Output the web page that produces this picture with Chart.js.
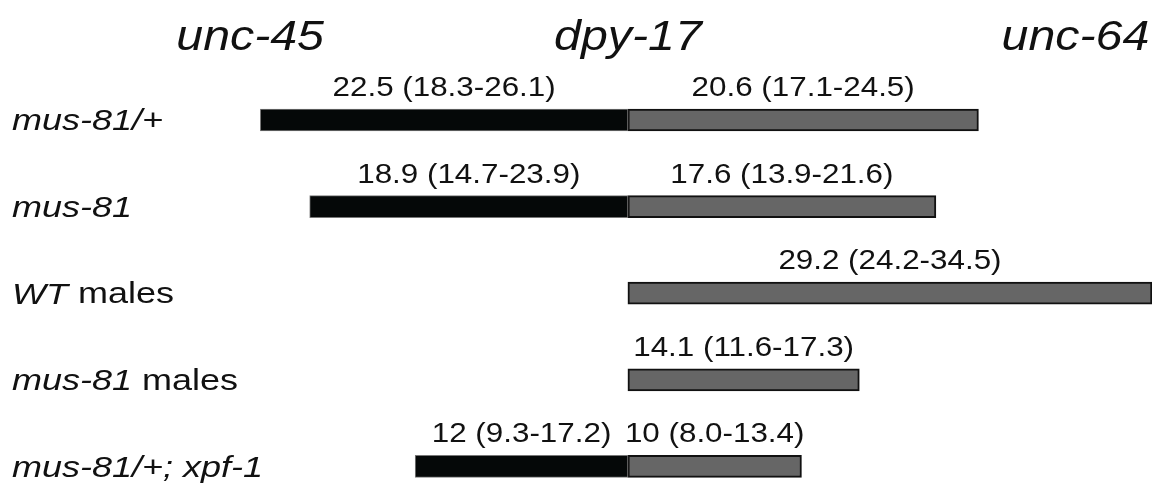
<!DOCTYPE html>
<html>
<head>
<meta charset="utf-8">
<script src="https://cdn.jsdelivr.net/npm/chart.js@4/dist/chart.umd.min.js"></script>
<style>
  html, body { margin: 0; padding: 0; background: #fff; }
  #wrap { width: 1152px; height: 492px; position: relative; }
</style>
</head>
<body>
<div id="wrap"><canvas id="c"></canvas></div>
<script>
// Rows (categories) and the italic part of each row name
const categories = ['mus-81/+', 'mus-81', 'WT males', 'mus-81 males', 'mus-81/+; xpf-1'];
const italicPart = ['mus-81/+', 'mus-81', 'WT', 'mus-81', 'mus-81/+; xpf-1'];

// Map distances measured from dpy-17 (left: toward unc-45, right: toward unc-64), as drawn
const leftSpan  = [-21.6, -18.7, null, null, -12.5];
const rightSpan = [20.6, 18.1, 30.8, 13.6, 10.2];

// Printed values above each bar
const leftText  = ['22.5 (18.3-26.1)', '18.9 (14.7-23.9)', null, null, '12 (9.3-17.2)'];
const rightText = ['20.6 (17.1-24.5)', '17.6 (13.9-21.6)', '29.2 (24.2-34.5)', '14.1 (11.6-17.3)', '10 (8.0-13.4)'];

// Gene markers along the top
const genes   = ['unc-45', 'dpy-17', 'unc-64'];
const genePos = [-22.2, 0, 26.3];

const FONT = '"Liberation Sans", Arial, Helvetica, sans-serif';

function stretchText(ctx, text, x, y, font, sx, align) {
  ctx.save();
  ctx.font = font;
  ctx.textAlign = align || 'center';
  ctx.translate(x, y);
  ctx.scale(sx, 1);
  ctx.fillText(text, 0, 0);
  ctx.restore();
}

const textPlugin = {
  id: 'textPlugin',
  afterDatasetsDraw(chart) {
    const ctx = chart.ctx;
    const xs = chart.scales.x, ys = chart.scales.y;
    ctx.save();
    ctx.fillStyle = '#111';
    ctx.textBaseline = 'alphabetic';
    // gene names
    genes.forEach((g, i) => {
      stretchText(ctx, g, xs.getPixelForValue(genePos[i]), 50, 'italic 42px ' + FONT, 1.15, 'center');
    });
    // value labels
    const texts = [leftText, rightText];
    [0, 1].forEach(di => {
      const meta = chart.getDatasetMeta(di);
      meta.data.forEach((el, i) => {
        const t = texts[di][i];
        if (!t || el.skip) return;
        const p = el.getProps(['x', 'base', 'y', 'height'], true);
        const cx = (p.x + p.base) / 2;
        const top = p.y - p.height / 2;
        stretchText(ctx, t, cx, top - 13, '28px ' + FONT, 1.12, 'center');
      });
    });
    // row names
    ctx.textBaseline = 'middle';
    categories.forEach((c, i) => {
      const y = ys.getPixelForTick(i) + 2;
      const it = italicPart[i];
      const rest = c.slice(it.length);
      ctx.save();
      ctx.translate(12, y);
      ctx.scale(1.2, 1);
      ctx.textAlign = 'left';
      ctx.font = 'italic 30px ' + FONT;
      ctx.fillText(it, 0, 0);
      const w = ctx.measureText(it).width;
      if (rest) {
        ctx.font = '30px ' + FONT;
        ctx.fillText(rest, w, 0);
      }
      ctx.restore();
    });
    ctx.restore();
  }
};

new Chart(document.getElementById('c'), {
  type: 'bar',
  data: {
    labels: categories,
    datasets: [
      {
        label: 'unc-45 – dpy-17',
        data: leftSpan.map(v => v == null ? null : [v, 0]),
        backgroundColor: '#050808',
        borderColor: '#777',
        borderWidth: 1,
        borderSkipped: false,
        grouped: false,
        barThickness: 22,
        clip: false
      },
      {
        label: 'dpy-17 – unc-64',
        data: rightSpan.map(v => v == null ? null : [0, v]),
        backgroundColor: '#666666',
        borderColor: '#111',
        borderWidth: 2,
        borderSkipped: false,
        grouped: false,
        barThickness: 22,
        clip: false
      }
    ]
  },
  options: {
    indexAxis: 'y',
    responsive: true,
    maintainAspectRatio: false,
    animation: false,
    layout: { padding: { top: 120, bottom: 25.6, left: 0, right: 0 } },
    plugins: { legend: { display: false }, tooltip: { enabled: false } },
    scales: {
      x: { type: 'linear', min: -36.9, max: 30.8, display: false },
      y: { type: 'category', offset: false, display: false }
    }
  },
  plugins: [textPlugin]
});
</script>
</body>
</html>
